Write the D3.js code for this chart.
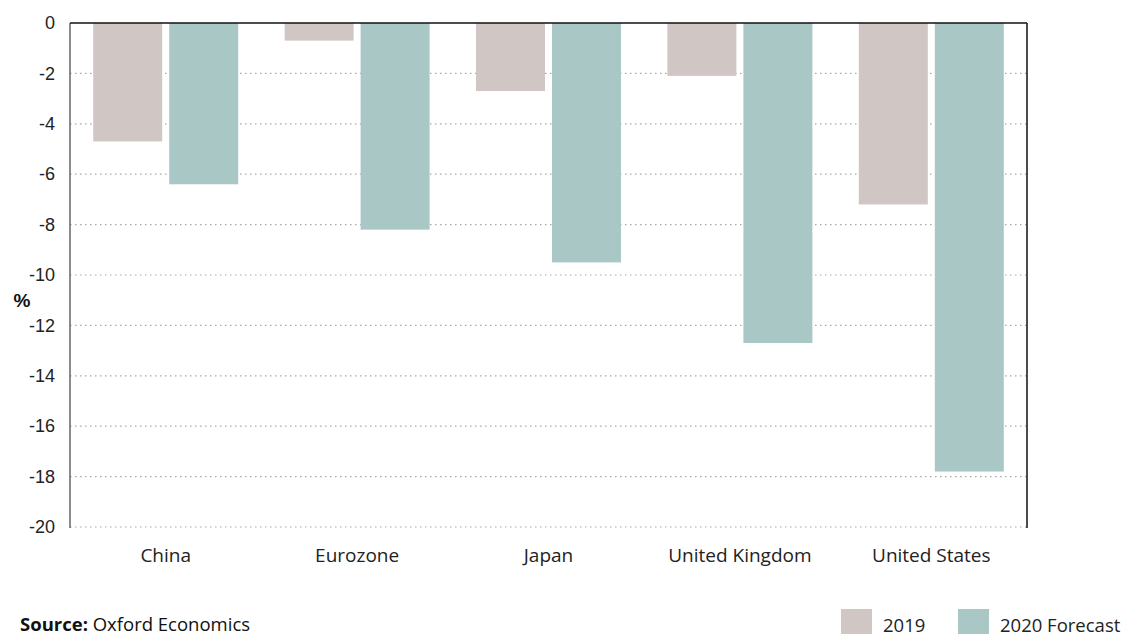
<!DOCTYPE html>
<html>
<head>
<meta charset="utf-8">
<script src="https://cdn.jsdelivr.net/npm/d3@7"></script>
<style>
  html, body { margin: 0; padding: 0; background: #fff; }
  svg { display: block; }
</style>
</head>
<body>
<svg id="chart" width="1122" height="634"></svg>
<script>
// GDP change by economy, %
const categories = ["China", "Eurozone", "Japan", "United Kingdom", "United States"];
const seriesNames = ["2019", "2020 Forecast"];
const values2019 = [-4.7, -0.7, -2.7, -2.1, -7.2];
const values2020 = [-6.4, -8.2, -9.5, -12.7, -17.8];
const yTicks = [0, -2, -4, -6, -8, -10, -12, -14, -16, -18, -20];
const colors = ["#d0c7c4", "#a9c8c5"];

const svg = d3.select("#chart");
const plotLeft = 70, plotRight = 1027, plotTop = 23, plotBottom = 527;
const textFont = "'Open Sans', Lato, sans-serif";

const x = d3.scaleBand().domain(categories).range([plotLeft, plotRight]);
const pairWidth = 145;
const inner = d3.scaleBand().domain(seriesNames)
  .range([(x.bandwidth() - pairWidth) / 2, (x.bandwidth() + pairWidth) / 2])
  .paddingInner(0.092);
const y = d3.scaleLinear().domain([0, -20]).range([plotTop, plotBottom]);

// dotted gridlines
svg.append("g").selectAll("line").data(yTicks.filter(d => d !== 0)).join("line")
  .attr("x1", plotLeft).attr("x2", plotRight)
  .attr("y1", d => y(d)).attr("y2", d => y(d))
  .attr("stroke", "#a8a8a8").attr("stroke-width", 1.2)
  .attr("stroke-dasharray", "1.5,3.5");

// bars
const rows = categories.map((c, i) => ({ c, vals: [values2019[i], values2020[i]] }));
const groups = svg.append("g").selectAll("g").data(rows).join("g")
  .attr("transform", d => `translate(${x(d.c)},0)`);
groups.selectAll("rect").data(d => d.vals.map((v, j) => ({ v, s: seriesNames[j], j }))).join("rect")
  .attr("x", d => inner(d.s))
  .attr("width", inner.bandwidth())
  .attr("y", y(0))
  .attr("height", d => y(d.v) - y(0))
  .attr("fill", d => colors[d.j]);

// frame: gray left axis, black top and right
svg.append("line").attr("x1", plotLeft).attr("x2", plotLeft).attr("y1", plotTop).attr("y2", plotBottom + 1)
  .attr("stroke", "#666").attr("stroke-width", 1.5);
svg.append("line").attr("x1", plotLeft).attr("x2", plotRight).attr("y1", plotTop).attr("y2", plotTop)
  .attr("stroke", "#111").attr("stroke-width", 1.5);
svg.append("line").attr("x1", plotRight).attr("x2", plotRight).attr("y1", plotTop).attr("y2", plotBottom + 1)
  .attr("stroke", "#111").attr("stroke-width", 1.5);

// y axis labels (plain hyphen minus)
const yAxis = d3.axisLeft(y).tickValues(yTicks).tickSize(0).tickPadding(15).tickFormat(d => String(d));
const ya = svg.append("g").attr("transform", `translate(${plotLeft},0)`).call(yAxis);
ya.select(".domain").remove();
ya.selectAll("text").attr("font-family", "'Liberation Sans', Arial, sans-serif")
  .attr("font-size", 18).attr("fill", "#222");

svg.append("text").attr("x", 22).attr("y", 307).attr("text-anchor", "middle")
  .attr("font-family", "'Liberation Sans', Arial, sans-serif").attr("font-weight", "bold")
  .attr("font-size", 19).attr("fill", "#111").text("%");

// category labels
const xAxis = d3.axisBottom(x).tickSize(0).tickPadding(22);
const xa = svg.append("g").attr("transform", `translate(0,${plotBottom})`).call(xAxis);
xa.select(".domain").remove();
xa.selectAll("text").attr("font-family", textFont)
  .attr("font-size", 19).attr("fill", "#222");

// source note
const src = svg.append("text").attr("x", 20).attr("y", 631)
  .attr("font-family", textFont).attr("font-size", 18.5).attr("fill", "#111");
src.append("tspan").attr("font-weight", "bold").text("Source:");
src.append("tspan").text(" Oxford Economics");

// legend
const legendX = [841, 958];
const lg = svg.append("g").selectAll("g").data(seriesNames).join("g")
  .attr("transform", (d, i) => `translate(${legendX[i]},609)`);
lg.append("rect").attr("width", 31).attr("height", 26).attr("fill", (d, i) => colors[i]);
lg.append("text").attr("x", 42).attr("y", 23)
  .attr("font-family", textFont).attr("font-size", 18.5).attr("fill", "#222")
  .text(d => d);
</script>
</body>
</html>
